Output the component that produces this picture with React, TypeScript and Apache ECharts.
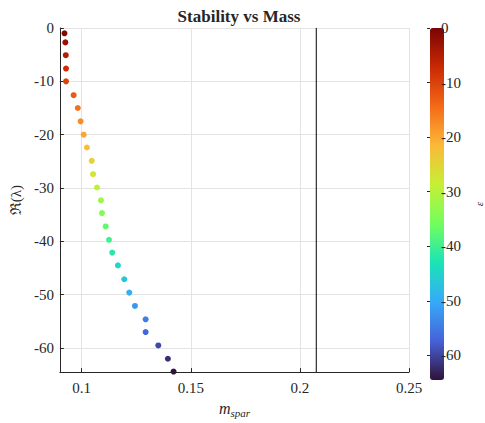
import React, { useEffect, useRef } from "react";
import * as echarts from "echarts";

const massValues = [
  0.0921, 0.0925, 0.0927, 0.0928, 0.0928, 0.0963, 0.0982, 0.0995, 0.1009,
  0.1024, 0.1046, 0.1052, 0.107, 0.1088, 0.1093, 0.111, 0.1125, 0.114,
  0.1166, 0.1195, 0.1218, 0.1244, 0.1293, 0.1293, 0.1351, 0.1395, 0.1421,
];
const realParts = [
  -1.0, -2.7, -5.1, -7.6, -10.0, -12.6, -15.0, -17.5, -20.0, -22.4, -24.9,
  -27.4, -29.9, -32.3, -34.7, -37.2, -39.7, -42.1, -44.5, -47.1, -49.6,
  -52.1, -54.6, -57.0, -59.5, -62.0, -64.4,
];
const thresholdMass = 0.2075;
const xRange = [0.09, 0.25];
const yRange = [-64.5, 0];
const turbo = [
  "#30123b", "#4662d7", "#36aaf9", "#1ae4b6", "#72fe5e",
  "#c7ef34", "#fbb938", "#f56918", "#c92903", "#7a0403",
];

const FONT = "Liberation Serif";

export default function App() {
  const ref = useRef<HTMLDivElement>(null);
  useEffect(() => {
    if (!ref.current) return;
    const chart = echarts.init(ref.current, null, { renderer: "svg" });
    const data = massValues.map((m, i) => [m, realParts[i]]);
    const axisCol = "#262626";
    chart.setOption({
      animation: false,
      backgroundColor: "#fff",
      textStyle: { fontFamily: FONT },
      title: {
        text: "Stability vs Mass",
        left: 234,
        textAlign: "center",
        top: 3,
        textStyle: { fontFamily: FONT, fontSize: 17, fontWeight: "bold", color: "#262626" },
      },
      grid: [
        { left: 58, right: 76, top: 28, bottom: 43 },
        { left: 430, width: 14, top: 28, bottom: 43 },
      ],
      xAxis: [
        {
          type: "value",
          gridIndex: 0,
          min: xRange[0],
          max: xRange[1],
          splitNumber: 3,
          minInterval: 0.05,
          maxInterval: 0.05,
          name: "{m|m}{s|spar}",
          nameLocation: "middle",
          nameGap: 22,
          nameTextStyle: {
            rich: {
              m: { fontFamily: FONT, fontStyle: "italic", fontSize: 16, color: axisCol },
              s: { fontFamily: FONT, fontStyle: "italic", fontSize: 11, color: axisCol, padding: [9, 0, 0, 0] },
            },
          },
          axisLine: { show: true, onZero: false, lineStyle: { color: axisCol, width: 1 } },
          axisTick: { inside: true, length: 4, lineStyle: { color: axisCol } },
          axisLabel: {
            showMinLabel: false,
            fontFamily: FONT,
            fontSize: 15,
            color: axisCol,
            margin: 8,
            formatter: (v: number) => String(Number(v.toFixed(2))),
          },
          splitLine: { show: true, lineStyle: { color: "#e3e3e3", width: 1 } },
        },
        { type: "value", gridIndex: 1, show: false, min: 0, max: 1 },
      ],
      yAxis: [
        {
          type: "value",
          gridIndex: 0,
          min: yRange[0],
          max: yRange[1],
          splitNumber: 7,
          minInterval: 10,
          maxInterval: 10,
          name: "ℜ(λ)",
          nameLocation: "middle",
          nameRotate: 90,
          nameGap: 32,
          nameTextStyle: { fontFamily: FONT, fontSize: 15, color: axisCol },
          axisLine: { show: true, onZero: false, lineStyle: { color: axisCol, width: 1 } },
          axisTick: { inside: true, length: 4, lineStyle: { color: axisCol } },
          axisLabel: {
            showMinLabel: false,
            fontFamily: FONT,
            fontSize: 15,
            color: axisCol,
            margin: 6,
          },
          splitLine: { show: true, lineStyle: { color: "#e3e3e3", width: 1 } },
        },
        {
          type: "value",
          gridIndex: 1,
          position: "right",
          min: yRange[0],
          max: yRange[1],
          splitNumber: 7,
          minInterval: 10,
          maxInterval: 10,
          name: "ε",
          nameLocation: "middle",
          nameRotate: 90,
          nameGap: 36,
          nameTextStyle: { fontFamily: FONT, fontStyle: "italic", fontSize: 11, color: axisCol },
          axisLine: { show: false },
          axisTick: { show: true, inside: true, length: 3, lineStyle: { color: axisCol } },
          axisLabel: { showMinLabel: false, fontFamily: FONT, fontSize: 15, color: axisCol, margin: 4 },
          splitLine: { show: false },
          z: 10,
        },
      ],
      visualMap: {
        type: "continuous",
        min: yRange[0],
        max: yRange[1],
        dimension: 1,
        seriesIndex: 0,
        orient: "vertical",
        left: 430,
        top: 28,
        itemWidth: 14,
        itemHeight: 352,
        padding: 0,
        calculable: false,
        showLabel: false,
        hoverLink: false,
        inRange: { color: turbo },
      },
      series: [
        {
          type: "scatter",
          xAxisIndex: 0,
          yAxisIndex: 0,
          data,
          symbolSize: 6,
          itemStyle: { opacity: 1 },
          z: 3,
        },
        {
          type: "line",
          xAxisIndex: 0,
          yAxisIndex: 0,
          data: [
            [thresholdMass, yRange[1]],
            [thresholdMass, yRange[0]],
          ],
          symbol: "none",
          lineStyle: { color: "#000", width: 1 },
          z: 2,
        },
      ],
    });
    return () => chart.dispose();
  }, []);
  return (
    <div
      ref={ref}
      style={{ position: "fixed", left: 0, top: 0, width: 485, height: 423 }}
    />
  );
}
